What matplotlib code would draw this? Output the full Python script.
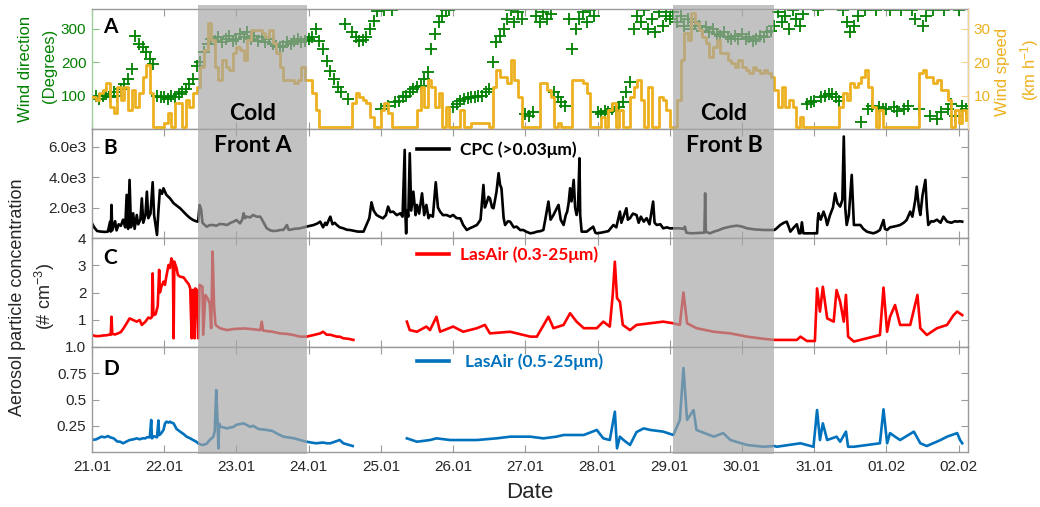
import numpy as np
import matplotlib
matplotlib.use('Agg')
import matplotlib.pyplot as plt
import matplotlib.transforms as mtransforms
from matplotlib.patches import Rectangle
from matplotlib.font_manager import FontProperties

plt.rcParams['font.family'] = ['Liberation Sans', 'DejaVu Sans']
plt.rcParams['mathtext.fontset'] = 'custom'
plt.rcParams['mathtext.rm'] = 'Liberation Sans'
plt.rcParams['mathtext.it'] = 'Liberation Sans:italic'

# ---------------- data ----------------
day_labels = ['21.01', '22.01', '23.01', '24.01', '25.01', '26.01', '27.01',
              '28.01', '29.01', '30.01', '31.01', '01.02', '02.02']
front_a = (1.47, 2.98)
front_b = (8.05, 9.45)

# wind data, sampled every 0.05 day from 21.01 00:00
wind_step = 0.05
wind_dir = [
    95, 100, 90, 98, 105, 95, 110, 100, 120, 135, 150, 180, 280, 255, 245, 230, 210, 195, 100, 95,
    95, 90, 100, 95, 105, 110, 120, 135, 150, 190, 200, 230, 255, 270, 265, 275, 260, 270, 280, 265,
    270, 285, 275, 290, 270, 280, 265, 275, 260, 270, 255, 250, 245, 250, 260, 255, 265, 270, 260, 265,
    270, 275, 300, 265, 240, 205, 175, 150, 125, 110, 315, 90, 290, 275, 265, 268, 275, 300, 325, 355,
    60, 358, 70, 357, 80, 85, 95, 100, 110, 120, 125, 130, 150, 170, 240, 285, 320, 340, 357, 357,
    65, 75, 85, 90, 92, 95, 95, 100, 100, 110, 120, 200, 260, 280, 300, 330, 357, 320, 350, 330,
    45, 40, 50, 340, 320, 350, 330, 345, 110, 95, 80, 70, 330, 240, 300, 330, 350, 320, 357, 340,
    50, 45, 55, 50, 60, 55, 65, 80, 110, 140, 300, 340, 320, 357, 300, 330, 290, 350, 310, 340,
    330, 350, 320, 340, 310, 330, 300, 320, 310, 295, 305, 290, 300, 285, 280, 290, 275, 270, 280, 270,
    285, 270, 275, 265, 270, 280, 275, 290, 295, 310, 350, 320, 340, 300, 357, 330, 310, 345, 75, 80,
    85, 357, 95, 100, 105, 105, 95, 85, 357, 320, 290, 310, 340, 20, 357, 60, 70, 357, 65, 60,
    60, 357, 65, 55, 357, 60, 70, 357, 330, 60, 310, 340, 40, 357, 30, 50, 357, 60, 75, 40,
    357, 70, 60]
wind_speed = [
    9.7, 8.7, 10.7, 11.7, 13.7, 6.7, 4.7, 12.7, 8.7, 12.7, 5.7, 11.7, 6.7, 10.7, 15.7, 19.2, 10.7, 0.5, 0.5, 0.5,
    1.7, 4.7, 0.5, 7.7, 7.7, 0.5, 8.7, 6.7, 10.7, 12.7, 18.7, 23.7, 31.7, 26.7, 18.7, 14.7, 20.7, 18.7, 17.7, 22.7,
    24.7, 23.7, 20.7, 26.7, 29.7, 29.7, 29.7, 28.7, 27.7, 29.7, 25.7, 22.7, 18.7, 14.7, 14.7, 14.7, 13.7, 14.7, 18.7, 14.7,
    14.7, 10.7, 5.7, 0.5, 0.5, 0.5, 0.5, 0.5, 0.5, 0.5, 0.5, 0.5, 7.7, 10.7, 9.7, 8.7, 7.7, 3.7, 0.5, 0.5,
    5.7, 7.7, 4.7, 0.5, 0.5, 0.5, 0.5, 0.5, 0.5, 0.5, 5.7, 12.7, 6.7, 14.7, 12.7, 6.7, 10.7, 0.5, 6.7, 0.5,
    0.5, 0.5, 5.7, 0.5, 0.5, 1.7, 1.7, 1.7, 1.7, 1.7, 0.5, 12.7, 17.7, 15.7, 15.7, 13.7, 20.7, 14.7, 9.7, 0.5,
    0.5, 0.5, 0.5, 0.5, 13.7, 13.7, 11.7, 9.7, 0.5, 1.7, 0.5, 0.5, 0.5, 14.7, 14.7, 14.7, 13.7, 10.7, 0.5, 0.5,
    0.5, 3.7, 0.5, 5.7, 7.7, 0.5, 5.7, 0.5, 0.5, 9.7, 12.7, 14.7, 8.7, 0.5, 12.7, 0.5, 0.5, 9.7, 8.7, 5.7,
    0.5, 0.5, 8.7, 20.7, 28.7, 26.7, 34.7, 31.7, 29.7, 27.7, 25.7, 21.7, 24.7, 26.7, 22.7, 22.7, 20.7, 19.7, 18.7, 20.7,
    18.7, 17.7, 16.7, 18.7, 17.7, 16.7, 17.7, 16.7, 15.7, 11.7, 6.7, 12.7, 6.7, 8.7, 6.7, 0.5, 3.7, 0.5, 0.5, 0.5,
    0.5, 0.5, 0.5, 0.5, 0.5, 0.5, 0.5, 6.7, 10.7, 8.7, 13.7, 12.7, 13.7, 15.7, 17.7, 12.7, 6.7, 0.5, 5.7, 0.5,
    0.5, 0.5, 0.5, 0.5, 0.5, 0.5, 0.5, 0.5, 0.5, 16.7, 17.7, 15.7, 15.7, 13.7, 14.7, 11.7, 11.7, 8.7, 0.5, 5.7,
    1.7, 5.7, 2.7]

# CPC (>0.03 um): time in days since 21.01, concentration
cpc_t = [0.00, 0.03, 0.07, 0.12, 0.18, 0.22, 0.25, 0.26, 0.27, 0.28, 0.32, 0.34, 0.37, 0.40, 0.43, 0.46,
         0.48, 0.50, 0.52, 0.54, 0.57, 0.59, 0.62, 0.64, 0.67, 0.69, 0.71, 0.74, 0.76, 0.78, 0.81, 0.84,
         0.86, 0.90, 0.92, 0.94, 0.97, 0.99, 1.03, 1.08, 1.13, 1.18, 1.22, 1.27, 1.31, 1.36, 1.40, 1.44,
         1.47, 1.49, 1.51, 1.53, 1.55, 1.59, 1.63, 1.68, 1.72, 1.77, 1.82, 1.87, 1.92, 1.96, 2.00, 2.05,
         2.08, 2.10, 2.12, 2.14, 2.19, 2.23, 2.28, 2.33, 2.37, 2.42, 2.47, 2.51, 2.56, 2.61, 2.65, 2.70,
         2.72, 2.74, 2.80, 2.88, 2.93, 2.97, 3.02, 3.07, 3.12, 3.16, 3.20, 3.23, 3.25, 3.28, 3.30, 3.33,
         3.36, 3.39, 3.43, 3.48, 3.53, 3.57, 3.62, 3.68, 3.76, 3.80, 3.84, 3.87, 3.90, 3.94, 3.98, 4.03,
         4.07, 4.10, 4.13, 4.17, 4.22, 4.27, 4.30, 4.33, 4.34, 4.35, 4.36, 4.38, 4.40, 4.42, 4.45, 4.48,
         4.50, 4.53, 4.57, 4.60, 4.63, 4.66, 4.68, 4.72, 4.76, 4.79, 4.82, 4.86, 4.91, 4.96, 5.00, 5.05,
         5.10, 5.14, 5.19, 5.23, 5.28, 5.33, 5.38, 5.42, 5.44, 5.47, 5.49, 5.51, 5.54, 5.56, 5.60, 5.63,
         5.65, 5.67, 5.70, 5.72, 5.76, 5.79, 5.84, 5.88, 5.93, 5.97, 6.02, 6.07, 6.12, 6.16, 6.21, 6.25,
         6.28, 6.32, 6.35, 6.39, 6.42, 6.46, 6.49, 6.53, 6.56, 6.58, 6.60, 6.62, 6.64, 6.67, 6.69, 6.71,
         6.73, 6.75, 6.76, 6.78, 6.82, 6.85, 6.90, 6.94, 6.97, 6.99, 7.05, 7.10, 7.15, 7.22, 7.26, 7.31,
         7.33, 7.36, 7.40, 7.42, 7.45, 7.49, 7.54, 7.57, 7.60, 7.64, 7.68, 7.72, 7.77, 7.79, 7.82, 7.87,
         7.91, 7.96, 8.00, 8.05, 8.14, 8.19, 8.21, 8.23, 8.30, 8.40, 8.48, 8.49, 8.50, 8.56, 8.61, 8.67,
         8.74, 8.84, 8.93, 9.00, 9.07, 9.18, 9.30, 9.40, 9.45, 9.48, 9.53, 9.58, 9.62, 9.65, 9.67, 9.72,
         9.76, 9.79, 9.81, 9.83, 9.85, 9.90, 9.95, 10.04, 10.05, 10.06, 10.09, 10.13, 10.16, 10.18, 10.22, 10.26,
         10.29, 10.32, 10.36, 10.39, 10.41, 10.43, 10.45, 10.48, 10.52, 10.54, 10.55, 10.60, 10.64, 10.68, 10.73, 10.78,
         10.82, 10.87, 10.91, 10.96, 10.98, 11.01, 11.05, 11.10, 11.15, 11.19, 11.24, 11.28, 11.33, 11.36, 11.40, 11.42,
         11.45, 11.47, 11.50, 11.54, 11.56, 11.58, 11.62, 11.65, 11.70, 11.75, 11.79, 11.84, 11.90, 11.95, 11.98, 12.02,
         12.05]
cpc_v = [960, 700, 460, 420, 400, 420, 1070, 420, 2170, 500, 1100, 500, 900, 800, 1200, 700,
         2830, 600, 3810, 700, 1620, 600, 1510, 900, 1200, 2600, 1000, 1500, 3040, 1300, 1600, 3660,
         1500, 200, 1800, 3150, 2900, 3260, 2830, 2600, 2280, 2100, 1950, 1700, 1510, 1300, 1180, 1100,
         1070, 2170, 1900, 1000, 900, 740, 850, 850, 800, 920, 900, 850, 1000, 1070, 1180, 960,
         1200, 1620, 1300, 1400, 1350, 1510, 1400, 1400, 1070, 635, 500, 460, 470, 530, 530, 850,
         550, 530, 600, 635, 700, 745, 800, 854, 950, 1073, 700, 1000, 854, 1200, 1400, 900,
         1000, 854, 700, 635, 540, 526, 480, 420, 420, 854, 1300, 2340, 1800, 1510, 1400, 1290,
         1500, 2060, 1700, 1730, 1500, 1620, 1400, 5780, 1500, 300, 1800, 1400, 5560, 1800, 3040, 1500,
         2170, 1600, 2930, 1500, 2170, 1300, 1510, 1400, 3657, 2000, 1730, 1500, 1510, 1400, 1510, 1300,
         1290, 854, 526, 635, 740, 854, 1200, 3480, 2000, 2380, 2700, 2600, 2000, 1950, 3000, 4250,
         3500, 3260, 1300, 854, 1100, 1070, 700, 745, 520, 526, 400, 307, 350, 416, 450, 526,
         1300, 2390, 1200, 1510, 1800, 2170, 1200, 854, 1500, 1730, 2300, 3263, 2400, 3810, 2000, 1510,
         2000, 5230, 1500, 416, 416, 416, 600, 745, 350, 307, 350, 400, 450, 854, 700, 1730,
         1000, 1400, 1949, 1200, 1300, 1600, 1510, 1000, 1400, 1073, 1300, 900, 2390, 1000, 854, 900,
         635, 700, 635, 635, 635, 600, 745, 350, 307, 330, 350, 2930, 400, 307, 416, 500,
         635, 750, 810, 750, 635, 560, 526, 526, 526, 635, 854, 1000, 1073, 700, 416, 700,
         900, 307, 307, 1030, 307, 307, 307, 307, 1200, 1620, 1200, 1730, 1300, 854, 1510, 2000,
         2930, 2300, 2060, 2500, 6660, 2000, 854, 1500, 4140, 2000, 854, 854, 854, 600, 416, 350,
         307, 400, 526, 1180, 600, 526, 700, 745, 800, 854, 1000, 1180, 1730, 1400, 2500, 3370,
         2000, 1510, 2800, 3810, 2000, 854, 1100, 1073, 1200, 1000, 1400, 1073, 1000, 1100, 1073, 1100,
         1073]

# LasAir (0.3-25 um)
las03_t = [0.00, 0.05, 0.10, 0.15, 0.20, 0.25, 0.26, 0.27, 0.28, 0.32, 0.36, 0.40, 0.44, 0.48, 0.52, 0.57,
           0.62, 0.66, 0.69, 0.74, 0.78, 0.81, 0.83, 0.84, 0.85, 0.88, 0.91, 0.93, 0.94, 0.96, 0.99, 1.01,
           1.03, 1.06, 1.08, 1.10, 1.12, 1.13, 1.14, 1.17, 1.19, 1.22, 1.27, 1.31, 1.34, 1.36, 1.38, 1.39,
           1.41, 1.42, 1.43, 1.45, 1.47, 1.49, 1.53, 1.54, 1.56, 1.57, 1.60, 1.63, 1.65, 1.67, 1.69, 1.71,
           1.77, 1.87, 1.96, 2.10, 2.20, 2.33, 2.35, 2.37, 2.50, 2.60, 2.70, 2.79, 2.88, 2.97, 3.07, 3.16,
           3.20, 3.25, 3.30, 3.39, 3.43, 3.48, 3.55, 3.62, 4.00, 4.36, 4.40, 4.50, 4.63, 4.68, 4.77, 4.82,
           5.00, 5.14, 5.33, 5.44, 5.51, 5.79, 6.07, 6.16, 6.32, 6.39, 6.53, 6.62, 6.71, 6.81, 6.99, 7.08,
           7.17, 7.21, 7.24, 7.27, 7.31, 7.35, 7.45, 7.54, 7.73, 7.91, 8.05, 8.14, 8.19, 8.24, 8.37, 8.61,
           8.84, 9.07, 9.30, 9.45, 9.76, 9.81, 9.90, 10.01, 10.04, 10.08, 10.12, 10.18, 10.27, 10.31, 10.36, 10.41,
           10.44, 10.47, 10.55, 10.91, 10.96, 11.01, 11.05, 11.12, 11.19, 11.33, 11.43, 11.47, 11.56, 11.70, 11.84, 11.93,
           11.98, 12.05]
las03_v = [0.44, 0.40, 0.40, 0.42, 0.43, 0.46, 0.45, 1.11, 0.48, 0.46, 0.50, 0.55, 0.70, 0.87, 1.05, 0.99,
           0.93, 0.99, 0.81, 0.93, 1.08, 1.05, 1.10, 2.70, 1.17, 1.20, 1.50, 2.83, 2.00, 2.21, 2.40, 2.28,
           2.60, 3.01, 2.90, 3.25, 3.10, 0.32, 3.13, 2.90, 2.64, 2.58, 2.55, 2.40, 2.30, 2.15, 0.32, 2.09,
           2.09, 0.32, 2.15, 2.10, 0.32, 2.28, 2.21, 0.45, 1.42, 1.91, 1.79, 1.60, 0.69, 3.50, 1.50, 0.81,
           0.69, 0.62, 0.66, 0.68, 0.66, 0.62, 0.93, 0.60, 0.56, 0.50, 0.48, 0.44, 0.38, 0.38, 0.44, 0.50,
           0.56, 0.45, 0.45, 0.38, 0.38, 0.32, 0.30, 0.26, np.nan, 0.93, 0.62, 0.56, 0.75, 0.62, 1.11, 0.56,
           0.75, 0.56, 0.69, 0.81, 0.50, 0.56, 0.38, 0.38, 1.11, 0.69, 0.81, 1.24, 0.93, 0.69, 0.69, 0.93,
           0.75, 1.90, 3.13, 1.79, 1.66, 0.81, 0.62, 0.81, 0.87, 0.93, 0.87, 0.81, 2.00, 0.87, 0.69, 0.56,
           0.50, 0.38, 0.30, 0.26, 0.26, 0.38, 0.22, 0.22, 2.15, 1.30, 2.21, 1.05, 0.93, 2.09, 1.66, 0.93,
           1.91, 0.38, 0.20, 0.44, 2.18, 0.56, 1.11, 1.54, 0.81, 0.81, 1.91, 0.69, 0.44, 0.69, 0.81, 1.17,
           1.30, 1.17]

# LasAir (0.5-25 um)
las05_t = [0.00, 0.06, 0.13, 0.18, 0.22, 0.25, 0.30, 0.35, 0.39, 0.43, 0.48, 0.52, 0.57, 0.62, 0.66, 0.70,
           0.74, 0.76, 0.80, 0.82, 0.83, 0.86, 0.90, 0.92, 0.93, 0.96, 0.99, 1.01, 1.03, 1.06, 1.08, 1.10,
           1.13, 1.17, 1.22, 1.27, 1.31, 1.36, 1.40, 1.44, 1.47, 1.51, 1.54, 1.59, 1.63, 1.68, 1.70, 1.72,
           1.74, 1.75, 1.76, 1.78, 1.87, 1.96, 2.00, 2.10, 2.19, 2.23, 2.30, 2.42, 2.50, 2.55, 2.65, 2.80,
           2.88, 2.97, 3.10, 3.20, 3.25, 3.30, 3.43, 3.48, 3.61, 4.00, 4.36, 4.50, 4.68, 4.77, 4.96, 5.14,
           5.33, 5.60, 5.79, 6.07, 6.25, 6.43, 6.53, 6.81, 6.99, 7.08, 7.17, 7.24, 7.27, 7.31, 7.36, 7.45,
           7.54, 7.64, 7.73, 7.91, 8.05, 8.14, 8.19, 8.24, 8.33, 8.37, 8.61, 8.74, 8.84, 9.07, 9.30, 9.45,
           9.48, 9.81, 9.99, 10.04, 10.08, 10.12, 10.18, 10.31, 10.36, 10.44, 10.47, 10.55, 10.91, 10.96, 11.01, 11.05,
           11.12, 11.19, 11.38, 11.47, 11.56, 11.75, 11.84, 11.98, 12.02, 12.05]
las05_v = [0.114, 0.121, 0.146, 0.140, 0.152, 0.140, 0.130, 0.100, 0.098, 0.083, 0.100, 0.114, 0.120, 0.130, 0.121, 0.130,
           0.130, 0.140, 0.140, 0.305, 0.130, 0.150, 0.140, 0.300, 0.160, 0.180, 0.210, 0.270, 0.289, 0.280, 0.289, 0.280,
           0.273, 0.220, 0.194, 0.170, 0.146, 0.130, 0.114, 0.100, 0.083, 0.070, 0.067, 0.080, 0.114, 0.146, 0.200, 0.590,
           0.270, 0.035, 0.270, 0.241, 0.225, 0.240, 0.260, 0.273, 0.240, 0.250, 0.220, 0.210, 0.200, 0.180, 0.146, 0.130,
           0.114, 0.098, 0.083, 0.090, 0.083, 0.083, 0.114, 0.083, 0.057, np.nan, 0.130, 0.098, 0.114, 0.130, 0.114, 0.114,
           0.114, 0.130, 0.146, 0.146, 0.130, 0.146, 0.162, 0.162, 0.210, 0.130, 0.114, 0.384, 0.035, 0.146, 0.114, 0.067,
           0.190, 0.225, 0.210, 0.194, 0.162, 0.305, 0.800, 0.305, 0.400, 0.210, 0.146, 0.180, 0.114, 0.067, 0.050, 0.057,
           0.050, 0.083, 0.050, 0.400, 0.114, 0.273, 0.114, 0.146, 0.098, 0.194, 0.050, 0.050, 0.083, 0.406, 0.083, 0.180,
           0.146, 0.114, 0.194, 0.083, 0.057, 0.114, 0.146, 0.180, 0.114, 0.083]

# ---------------- styling ----------------
GREEN = '#008000'
ORANGE = '#EDB120'
BLACK = '#000000'
RED = '#FF0000'
BLUE = '#0072BD'
SPINE = '#9a9a9a'
TXT = '#262626'

bold_font = ['Lato', 'DejaVu Sans']

fig = plt.figure(figsize=(10.40, 5.07), dpi=100)
L, W = 92 / 1040, 876 / 1040
def box(top_px, bot_px):
    return [L, 1 - bot_px / 507, W, (bot_px - top_px) / 507]

axA = fig.add_axes(box(9, 129))
axB = fig.add_axes(box(129, 238), sharex=axA)
axC = fig.add_axes(box(238, 347), sharex=axA)
axD = fig.add_axes(box(347, 452), sharex=axA)
axA2 = axA.twinx()

wind_t = np.arange(len(wind_dir)) * wind_step

axA.plot(wind_t, wind_dir, linestyle='none', marker='+', markersize=8,
         markeredgewidth=1.3, color=GREEN)
axA2.plot(wind_t, wind_speed, drawstyle='steps-post', color=ORANGE, lw=2.0)

axB.plot(cpc_t, cpc_v, color=BLACK, lw=1.9, label='CPC (>0.03\u03bcm)')
axC.plot(las03_t, las03_v, color=RED, lw=1.9, label='LasAir (0.3-25\u03bcm)')
axD.plot(las05_t, las05_v, color=BLUE, lw=1.9, label='LasAir (0.5-25\u03bcm)')

axA.set_ylim(0, 360)
axA2.set_ylim(0, 36)
axB.set_ylim(0, 7150)
axC.set_ylim(0, 4)
axD.set_ylim(0, 1.0)
axD.set_xlim(0, 12.13)

ticks = list(range(len(day_labels)))
for ax in (axA, axB, axC, axD):
    ax.set_xticks(ticks)
    for s in ax.spines.values():
        s.set_color(SPINE)
        s.set_linewidth(1.0)
    ax.tick_params(axis='x', direction='in', length=5, width=0.8, color=SPINE,
                   top=True, bottom=True, labelbottom=False, labelsize=11,
                   labelcolor=TXT, pad=6)
    ax.tick_params(axis='y', direction='in', length=5, width=0.8, color=SPINE,
                   right=True, labelsize=11, labelcolor=TXT, pad=4)
axD.tick_params(axis='x', labelbottom=True)
axD.set_xticklabels(day_labels)

axA.set_yticks([100, 200, 300])
axA.tick_params(axis='y', right=False, labelcolor=GREEN, color='#80c080')
axA.spines['left'].set_color('#a0cca0')
axA2.set_yticks([10, 20, 30])
axA2.tick_params(axis='y', direction='in', length=5, width=0.8, color='#f3d58f',
                 labelcolor=ORANGE, labelsize=11, pad=4)
for s in axA2.spines.values():
    s.set_visible(False)
axA2.spines['right'].set_visible(True)
axA2.spines['right'].set_color('#f3d58f')

axB.set_yticks([2000, 4000, 6000])
axB.set_yticklabels(['2.0e3', '4.0e3', '6.0e3'])
axC.set_yticks([1, 2, 3, 4])
axC.set_yticklabels(['1', '2', '3', '4'])
axD.set_yticks([0.25, 0.5, 0.75, 1.0])
axD.set_yticklabels(['0.25', '0.5', '0.75', '1.0'])

# panel letters
for ax, letter, y in ((axA, 'A', 0.85), (axB, 'B', 0.826), (axC, 'C', 0.817), (axD, 'D', 0.79)):
    ax.text(0.013, y, letter, transform=ax.transAxes, ha='left', va='center',
            fontsize=15, fontweight='bold', family=bold_font, color='black', zorder=10)

# legends
for ax, col, y, pad in ((axB, BLACK, 0.807, 0.65), (axC, RED, 0.844, 0.65), (axD, BLUE, 0.857, 0.9)):
    ax.legend(loc='center left', bbox_to_anchor=(0.371, y), frameon=False,
              prop=FontProperties(family=bold_font, weight='bold', size=12.5),
              handlelength=1.85, handletextpad=pad, borderpad=0, borderaxespad=0,
              labelcolor=col)
    ax.get_legend().get_lines()[0].set_linewidth(2.6)

# x label and y labels
fig.text(530 / 1040, 1 - 493 / 507, 'Date', ha='center', va='center', fontsize=16, color=TXT)
fig.text(26 / 1040, 1 - 69 / 507, 'Wind direction', rotation=90, ha='center', va='center',
         fontsize=12, color=GREEN)
fig.text(50 / 1040, 1 - 66 / 507, '(Degrees)', rotation=90, ha='center', va='center',
         fontsize=12, color=GREEN)
fig.text(1003 / 1040, 1 - 72 / 507, 'Wind speed', rotation=90, ha='center', va='center',
         fontsize=12, color=ORANGE)
fig.text(1030 / 1040, 1 - 70 / 507, '(km h$^{-1}$)', rotation=90, ha='center', va='center',
         fontsize=12, color=ORANGE)
fig.text(18 / 1040, 1 - 297 / 507, 'Aerosol particle concentration', rotation=90,
         ha='center', va='center', fontsize=13, color=TXT)
fig.text(45 / 1040, 1 - 297 / 507, '(# cm$^{-3}$)', rotation=90,
         ha='center', va='center', fontsize=13, color=TXT)

# cold front shading spanning all panels
blend = mtransforms.blended_transform_factory(axD.transData, fig.transFigure)
y0, y1 = 1 - 454 / 507, 1 - 5 / 507
for (a, b) in (front_a, front_b):
    fig.add_artist(Rectangle((a, y0), b - a, y1 - y0, transform=blend,
                             facecolor='#a5a5a5', edgecolor='none', alpha=0.67, zorder=3))

for (a, b), name in ((front_a, 'Front A'), (front_b, 'Front B')):
    xm = (a + b) / 2
    fig.text(xm, 1 - 113 / 507, 'Cold', transform=blend, ha='center', va='center',
             fontsize=16.5, fontweight='bold', family=bold_font, color='black', zorder=5)
    fig.text(xm, 1 - 146 / 507, name, transform=blend, ha='center', va='center',
             fontsize=16.5, fontweight='bold', family=bold_font, color='black', zorder=5)

fig.savefig('out.png', dpi=100)
